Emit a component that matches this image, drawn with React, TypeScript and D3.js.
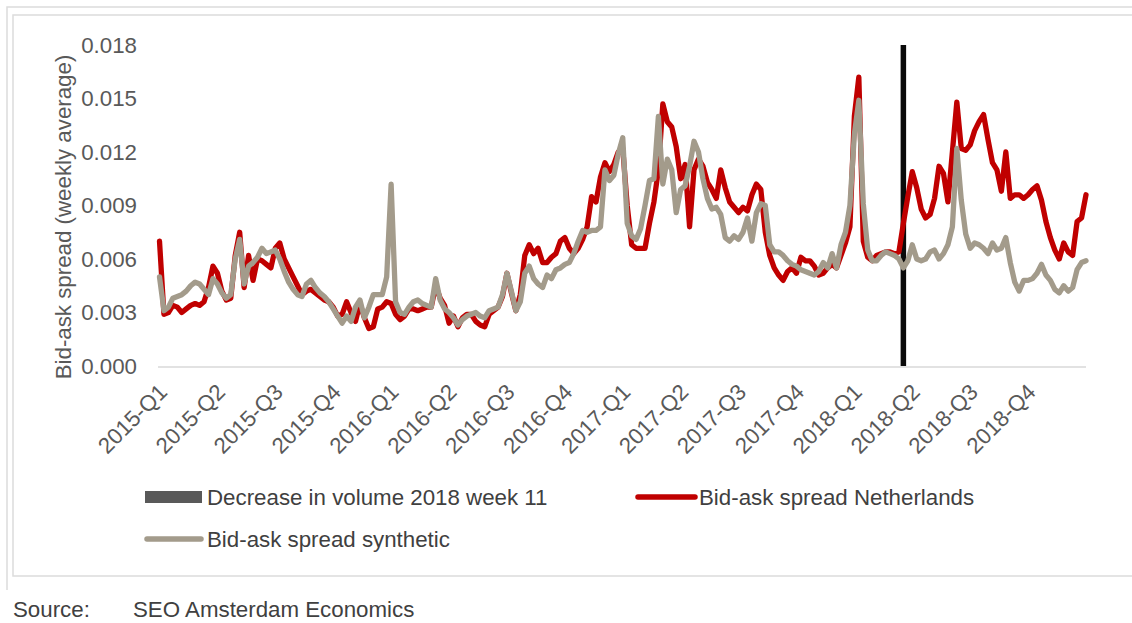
import React from 'react';
import * as d3 from 'd3';

// Weekly bid-ask spread, 2015-W01 .. 2018-W52 (2015 has 53 ISO weeks)
const netherlands: number[] = [
  0.0070, 0.0029, 0.0030, 0.0034, 0.0033, 0.0030, 0.0032, 0.0034, 0.0035, 0.0034,
  0.0036, 0.0044, 0.0056, 0.0052, 0.0042, 0.0037, 0.0038, 0.0062, 0.0075, 0.0044,
  0.0062, 0.0048, 0.0060, 0.0059, 0.0057, 0.0055, 0.0066, 0.0069, 0.0060, 0.0055,
  0.0050, 0.0045, 0.0040, 0.0042, 0.0043, 0.0041, 0.0039, 0.0037, 0.0036, 0.0033,
  0.0028, 0.0029, 0.0036, 0.0030, 0.0025, 0.0035, 0.0027, 0.0021, 0.0022, 0.0032,
  0.0033, 0.0036, 0.0035, 0.0029, 0.0026, 0.0028, 0.0032, 0.0032, 0.0031, 0.0032,
  0.0033, 0.0033, 0.0045, 0.0038, 0.0034, 0.0024, 0.0028, 0.0022, 0.0027, 0.0029,
  0.0029, 0.0025, 0.0023, 0.0022, 0.0029, 0.0031, 0.0033, 0.0039, 0.0052, 0.0041,
  0.0031, 0.0040, 0.0062, 0.0068, 0.0063, 0.0066, 0.0058, 0.0058, 0.0061, 0.0063,
  0.0070, 0.0072, 0.0066, 0.0063, 0.0066, 0.0071, 0.0078, 0.0095, 0.0092, 0.0106,
  0.0114, 0.0109, 0.0113, 0.0120, 0.0122, 0.0090, 0.0068, 0.0066, 0.0066, 0.0066,
  0.0080, 0.0092, 0.0110, 0.0147, 0.0137, 0.0134, 0.0123, 0.0105, 0.0113, 0.0078,
  0.0110, 0.0116, 0.0112, 0.0103, 0.0099, 0.0094, 0.0110, 0.0100, 0.0092, 0.0089,
  0.0086, 0.0089, 0.0087, 0.0096, 0.0102, 0.0099, 0.0075, 0.0062, 0.0055, 0.0051,
  0.0048, 0.0053, 0.0055, 0.0052, 0.0061, 0.0059, 0.0059, 0.0056, 0.0051, 0.0052,
  0.0055, 0.0057, 0.0055, 0.0062, 0.0069, 0.0078, 0.0140, 0.0162, 0.0070, 0.0061,
  0.0059, 0.0062, 0.0063, 0.0064, 0.0064, 0.0063, 0.0064, 0.0080, 0.0095, 0.0109,
  0.0100, 0.0088, 0.0083, 0.0085, 0.0094, 0.0112, 0.0108, 0.0092, 0.0120, 0.0148,
  0.0122, 0.0121, 0.0124, 0.0132, 0.0137, 0.0141, 0.0127, 0.0114, 0.0110, 0.0098,
  0.0120, 0.0094, 0.0096, 0.0096, 0.0094, 0.0096, 0.0099, 0.0101, 0.0093, 0.0081,
  0.0072, 0.0065, 0.0060, 0.0069, 0.0064, 0.0062, 0.0081, 0.0083, 0.0096,
];

const synthetic: number[] = [
  0.0050, 0.0031, 0.0033, 0.0038, 0.0039, 0.0040, 0.0042, 0.0045, 0.0047, 0.0046,
  0.0043, 0.0040, 0.0049, 0.0046, 0.0041, 0.0038, 0.0040, 0.0060, 0.0071, 0.0046,
  0.0056, 0.0058, 0.0061, 0.0066, 0.0063, 0.0064, 0.0065, 0.0060, 0.0053, 0.0047,
  0.0043, 0.0040, 0.0039, 0.0046, 0.0048, 0.0044, 0.0041, 0.0039, 0.0036, 0.0032,
  0.0028, 0.0024, 0.0028, 0.0025, 0.0033, 0.0037, 0.0027, 0.0033, 0.0040, 0.0040,
  0.0040, 0.0050, 0.0102, 0.0036, 0.0030, 0.0029, 0.0033, 0.0036, 0.0037, 0.0035,
  0.0034, 0.0033, 0.0049, 0.0037, 0.0032, 0.0030, 0.0027, 0.0023, 0.0026, 0.0028,
  0.0029, 0.0030, 0.0028, 0.0027, 0.0031, 0.0032, 0.0033, 0.0040, 0.0052, 0.0042,
  0.0031, 0.0036, 0.0052, 0.0056, 0.0049, 0.0046, 0.0044, 0.0051, 0.0049, 0.0054,
  0.0055, 0.0057, 0.0058, 0.0063, 0.0070, 0.0076, 0.0075, 0.0076, 0.0076, 0.0078,
  0.0110, 0.0104, 0.0107, 0.0119, 0.0128, 0.0080, 0.0073, 0.0071, 0.0077, 0.0090,
  0.0104, 0.0105, 0.0140, 0.0102, 0.0116, 0.0110, 0.0086, 0.0099, 0.0101, 0.0112,
  0.0126, 0.0120, 0.0105, 0.0094, 0.0088, 0.0089, 0.0085, 0.0072, 0.0070, 0.0073,
  0.0071, 0.0075, 0.0083, 0.0070, 0.0086, 0.0091, 0.0090, 0.0068, 0.0064, 0.0064,
  0.0062, 0.0059, 0.0057, 0.0056, 0.0054, 0.0053, 0.0052, 0.0051, 0.0053, 0.0058,
  0.0055, 0.0063, 0.0055, 0.0068, 0.0075, 0.0090, 0.0130, 0.0149, 0.0091, 0.0065,
  0.0059, 0.0059, 0.0062, 0.0064, 0.0063, 0.0062, 0.0060, 0.0055, 0.0059, 0.0068,
  0.0060, 0.0059, 0.0060, 0.0064, 0.0065, 0.0060, 0.0063, 0.0068, 0.0078, 0.0122,
  0.0093, 0.0074, 0.0066, 0.0069, 0.0068, 0.0066, 0.0063, 0.0069, 0.0065, 0.0066,
  0.0072, 0.0058, 0.0047, 0.0042, 0.0048, 0.0048, 0.0049, 0.0052, 0.0057, 0.0051,
  0.0048, 0.0043, 0.0041, 0.0045, 0.0042, 0.0044, 0.0054, 0.0058, 0.0059,
];

const years = [2015, 2016, 2017, 2018];
const weeksPerYear = [53, 52, 52, 52];
const weeks: string[] = [];
years.forEach((yr, k) => {
  for (let w = 1; w <= weeksPerYear[k]; w++) weeks.push(`${yr}-W${String(w).padStart(2, '0')}`);
});

const quarterLabels = [
  '2015-Q1', '2015-Q2', '2015-Q3', '2015-Q4',
  '2016-Q1', '2016-Q2', '2016-Q3', '2016-Q4',
  '2017-Q1', '2017-Q2', '2017-Q3', '2017-Q4',
  '2018-Q1', '2018-Q2', '2018-Q3', '2018-Q4',
];
const weeksPerLabel = 13;

const decreaseWeek = '2018-W11';
const decreaseValue = 0.018;

const yTicks = [0, 0.003, 0.006, 0.009, 0.012, 0.015, 0.018];

const W = 1132;
const H = 623;
const FONT = '"Liberation Sans", Arial, sans-serif';
const TXT = '#595959';
const DARK = '#404040';
const RED = '#C00000';
const GREY = '#A39B8B';
const FS = 22.3;

export default function App() {
  const x = d3.scaleLinear().domain([0, weeks.length - 1]).range([159.5, 1086]);
  const y = d3.scaleLinear().domain([0, 0.018]).range([366, 45]);

  const line = d3
    .line<number>()
    .x((_, i) => x(i))
    .y((d) => y(d));

  const barIdx = weeks.indexOf(decreaseWeek);
  const barW = 5.5;

  return (
    <svg
      width={W}
      height={H}
      style={{ position: 'absolute', left: 0, top: 0, background: '#fff' }}
      fontFamily={FONT}
    >
      <rect x={0} y={0} width={W} height={H} fill="#fff" />
      {/* frame */}
      <path d={`M7,${590} V7 H${W}`} fill="none" stroke="#dcdcdc" strokeWidth={1.5} />
      <path d={`M${W + 2},576 H13 V15 H${W + 2}`} fill="none" stroke="#dcdcdc" strokeWidth={1.5} />

      {/* axis line */}
      <line x1={158} x2={1086} y1={y(0) + 1} y2={y(0) + 1} stroke="#d9d9d9" strokeWidth={1.5} />

      {/* y ticks */}
      {yTicks.map((t) => (
        <text key={t} x={137} y={y(t)} dy="0.35em" textAnchor="end" fontSize={FS} fill={TXT}>
          {t.toFixed(3)}
        </text>
      ))}
      <text
        transform={`translate(63,217) rotate(-90)`}
        textAnchor="middle"
        dy="0.35em"
        fontSize={FS}
        fill={TXT}
      >
        Bid-ask spread (weekly average)
      </text>

      {/* x labels */}
      {quarterLabels.map((q, k) => (
        <text
          key={q}
          transform={`translate(${x(k * weeksPerLabel) + 3.5},388) rotate(-45)`}
          textAnchor="end"
          dy="0.35em"
          fontSize={FS}
          fill={TXT}
        >
          {q}
        </text>
      ))}

      {/* decrease bar */}
      <rect
        x={x(barIdx) - barW / 2}
        y={y(decreaseValue)}
        width={barW}
        height={y(0) - y(decreaseValue)}
        fill="#0a0a0a"
      />

      {/* lines */}
      <path d={line(netherlands) || ''} fill="none" stroke={RED} strokeWidth={5.3} strokeLinejoin="round" strokeLinecap="round" />
      <path d={line(synthetic) || ''} fill="none" stroke={GREY} strokeWidth={5.3} strokeLinejoin="round" strokeLinecap="round" />

      {/* legend */}
      <rect x={145} y={491} width={57} height={12} fill="#595959" />
      <text x={207} y={497} dy="0.35em" fontSize={FS} fill={DARK}>
        Decrease in volume 2018 week 11
      </text>
      <line x1={638} x2={695} y1={497} y2={497} stroke={RED} strokeWidth={5.5} strokeLinecap="round" />
      <text x={699} y={497} dy="0.35em" fontSize={FS} fill={DARK}>
        Bid-ask spread Netherlands
      </text>
      <line x1={147} x2={201} y1={539} y2={539} stroke={GREY} strokeWidth={5.5} strokeLinecap="round" />
      <text x={207} y={539} dy="0.35em" fontSize={FS} fill={DARK}>
        Bid-ask spread synthetic
      </text>

      {/* source */}
      <text x={13} y={609} dy="0.35em" fontSize={FS} fill={DARK}>
        Source:
      </text>
      <text x={133} y={609} dy="0.35em" fontSize={FS} fill={DARK}>
        SEO Amsterdam Economics
      </text>
    </svg>
  );
}
